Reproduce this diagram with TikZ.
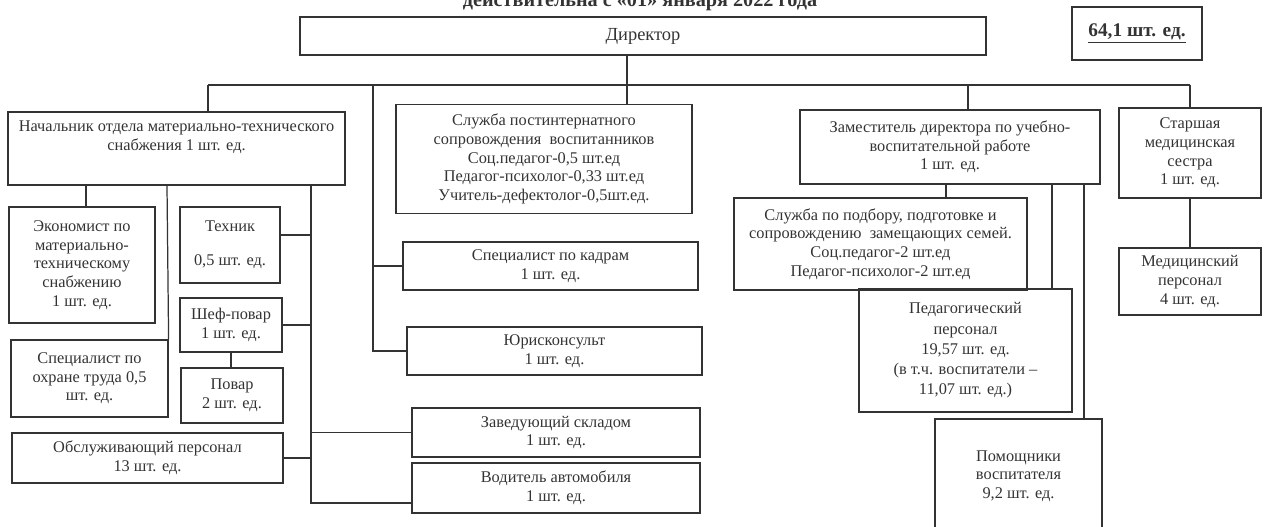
\documentclass[tikz,border=0pt]{standalone}
\usepackage{fontspec}
\setmainfont{Liberation Serif}
\usetikzlibrary{positioning}

\tikzset{
  unit/.style={draw=black!80, line width=0.7pt, inner sep=1pt, align=center,
    text=black!80, font=\fontsize{9.3}{10.6}\selectfont},
  label/.style={inner sep=0pt, align=center, text=black!80,
    font=\fontsize{9.3}{10.6}\selectfont},
  link/.style={draw=black!80, line width=0.7pt}
}

\begin{document}
\begin{tikzpicture}[x=0.02cm,y=-0.02cm]
\useasboundingbox (0,0) rectangle (1264,527);
\clip (0,0) rectangle (1264,527);

%Title (cut by the page edge)
\node [anchor=base, inner sep=0pt, text=black!80, font=\bfseries\fontsize{11.5}{13}\selectfont] (title) at (640,7) {действительна с «01» января 2022 года};

%Director
\node [unit, minimum width=13.72cm, minimum height=0.76cm, font=\fontsize{10.5}{12}\selectfont] (director) at (643,36) {Директор};
\node [unit, minimum width=2.6cm, minimum height=1.06cm, font=\bfseries\fontsize{11}{13}\selectfont] (total) at (1137,33.5) {\underline{64,1 шт. ед.}};

%Bus
\coordinate (busL) at (208,85);
\coordinate (busK) at (373,85);
\coordinate (busD) at (968,85);
\coordinate (busR) at (1190,85);

%Supply department
\node [unit, minimum width=6.74cm, minimum height=1.46cm] (mts) at (176.5,148.5) {};
\node [label] (mtstext) at (176.5,137) {Начальник отдела материально-технического\\снабжения 1 шт. ед.};
\node [unit, minimum width=2.92cm, minimum height=2.32cm] (econ) at (82,265) {Экономист по\\материально-\\техническому\\снабжению\\1 шт. ед.};
\node [unit, minimum width=3.14cm, minimum height=1.54cm] (ohrana) at (89.5,378.5) {Специалист по\\охране труда 0,5\\шт. ед.};
\node [unit, minimum width=2.0cm, minimum height=1.52cm] (tech) at (230,245) {Техник\\[9pt]0,5 шт. ед.};
\node [unit, minimum width=2.04cm, minimum height=1.08cm] (chef) at (231,325) {Шеф-повар\\1 шт. ед.};
\node [unit, minimum width=2.04cm, minimum height=1.1cm] (cook) at (232,395.5) {Повар\\2 шт. ед.};
\node [unit, minimum width=5.42cm, minimum height=1.0cm] (service) at (147.5,458) {Обслуживающий персонал\\13 шт. ед.};

%Middle column
\node [unit, minimum width=5.92cm, minimum height=2.18cm] (spvs) at (544,159) {Служба постинтернатного\\сопровождения \ воспитанников\\Соц.педагог-0,5 шт.ед\\Педагог-психолог-0,33 шт.ед\\Учитель-дефектолог-0,5шт.ед.};
\node [unit, minimum width=5.9cm, minimum height=0.96cm] (hr) at (550.5,266) {Специалист по кадрам\\1 шт. ед.};
\node [unit, minimum width=5.9cm, minimum height=0.96cm] (legal) at (554.5,351) {Юрисконсульт\\1 шт. ед.};
\node [unit, minimum width=5.76cm, minimum height=0.98cm] (store) at (556,432.5) {Заведующий складом\\1 шт. ед.};
\node [unit, minimum width=5.76cm, minimum height=1.0cm] (driver) at (556,488) {Водитель автомобиля\\1 шт. ед.};

%Deputy director
\node [unit, minimum width=6.0cm, minimum height=1.48cm] (deputy) at (950,147) {Заместитель директора по учебно-\\воспитательной работе\\1 шт. ед.};
\node [unit, minimum width=5.86cm, minimum height=1.84cm] (family) at (880.5,244) {Служба по подбору, подготовке и\\сопровождению \ замещающих семей.\\Соц.педагог-2 шт.ед\\Педагог-психолог-2 шт.ед};
\node [unit, minimum width=4.26cm, minimum height=2.46cm, font=\fontsize{9.3}{11.5}\selectfont] (teach) at (965.5,350.5) {Педагогический\\персонал\\19,57 шт. ед.\\(в т.ч. воспитатели –\\11,07 шт. ед.)};
\node [unit, minimum width=3.34cm, minimum height=2.28cm] (assist) at (1018.5,476) {Помощники\\воспитателя\\9,2 шт. ед.};

%Medical
\node [unit, minimum width=2.84cm, minimum height=1.8cm] (nurse) at (1190,153) {Старшая\\медицинская\\сестра\\1 шт. ед.};
\node [unit, minimum width=2.84cm, minimum height=1.34cm] (med) at (1190,281.5) {Медицинский\\персонал\\4 шт. ед.};

%Connectors
\draw [link] (627,0 |- director.south) -- (627,0 |- spvs.north);
\draw [link] (busL) -- (busR);
\draw [link] (busL) -- (busL |- mts.north);
\draw [link] (busD) -- (busD |- deputy.north);
\draw [link] (busR) -- (nurse.north);
\draw [link] (busK) -- (busK |- legal.west) -- (legal.west);
\draw [link] (busK |- hr.west) -- (hr.west);

\draw [link] (86,0 |- mts.south) -- (86,0 |- econ.north);
\draw [link] (167,0 |- mts.south) -- (ohrana.north east);
\draw [link] (311,0 |- mts.south) -- (311,503) -- (driver.west |- 0,503);
\draw [link] (tech.east |- 0,235) -- (311,235);
\draw [link] (chef.east) -- (311,0 |- chef.east);
\draw [link] (service.east) -- (311,0 |- service.east);
\draw [link] (311,0 |- store.west) -- (store.west);
\draw [link] (chef.south) -- (chef.south |- cook.north);

\draw [link] (946,0 |- deputy.south) -- (946,0 |- family.north);
\draw [link] (1052,0 |- deputy.south) -- (1052,0 |- teach.north);
\draw [link] (1084,0 |- deputy.south) -- (1084,0 |- assist.north);
\draw [link] (nurse.south) -- (med.north);

\end{tikzpicture}
\end{document}
